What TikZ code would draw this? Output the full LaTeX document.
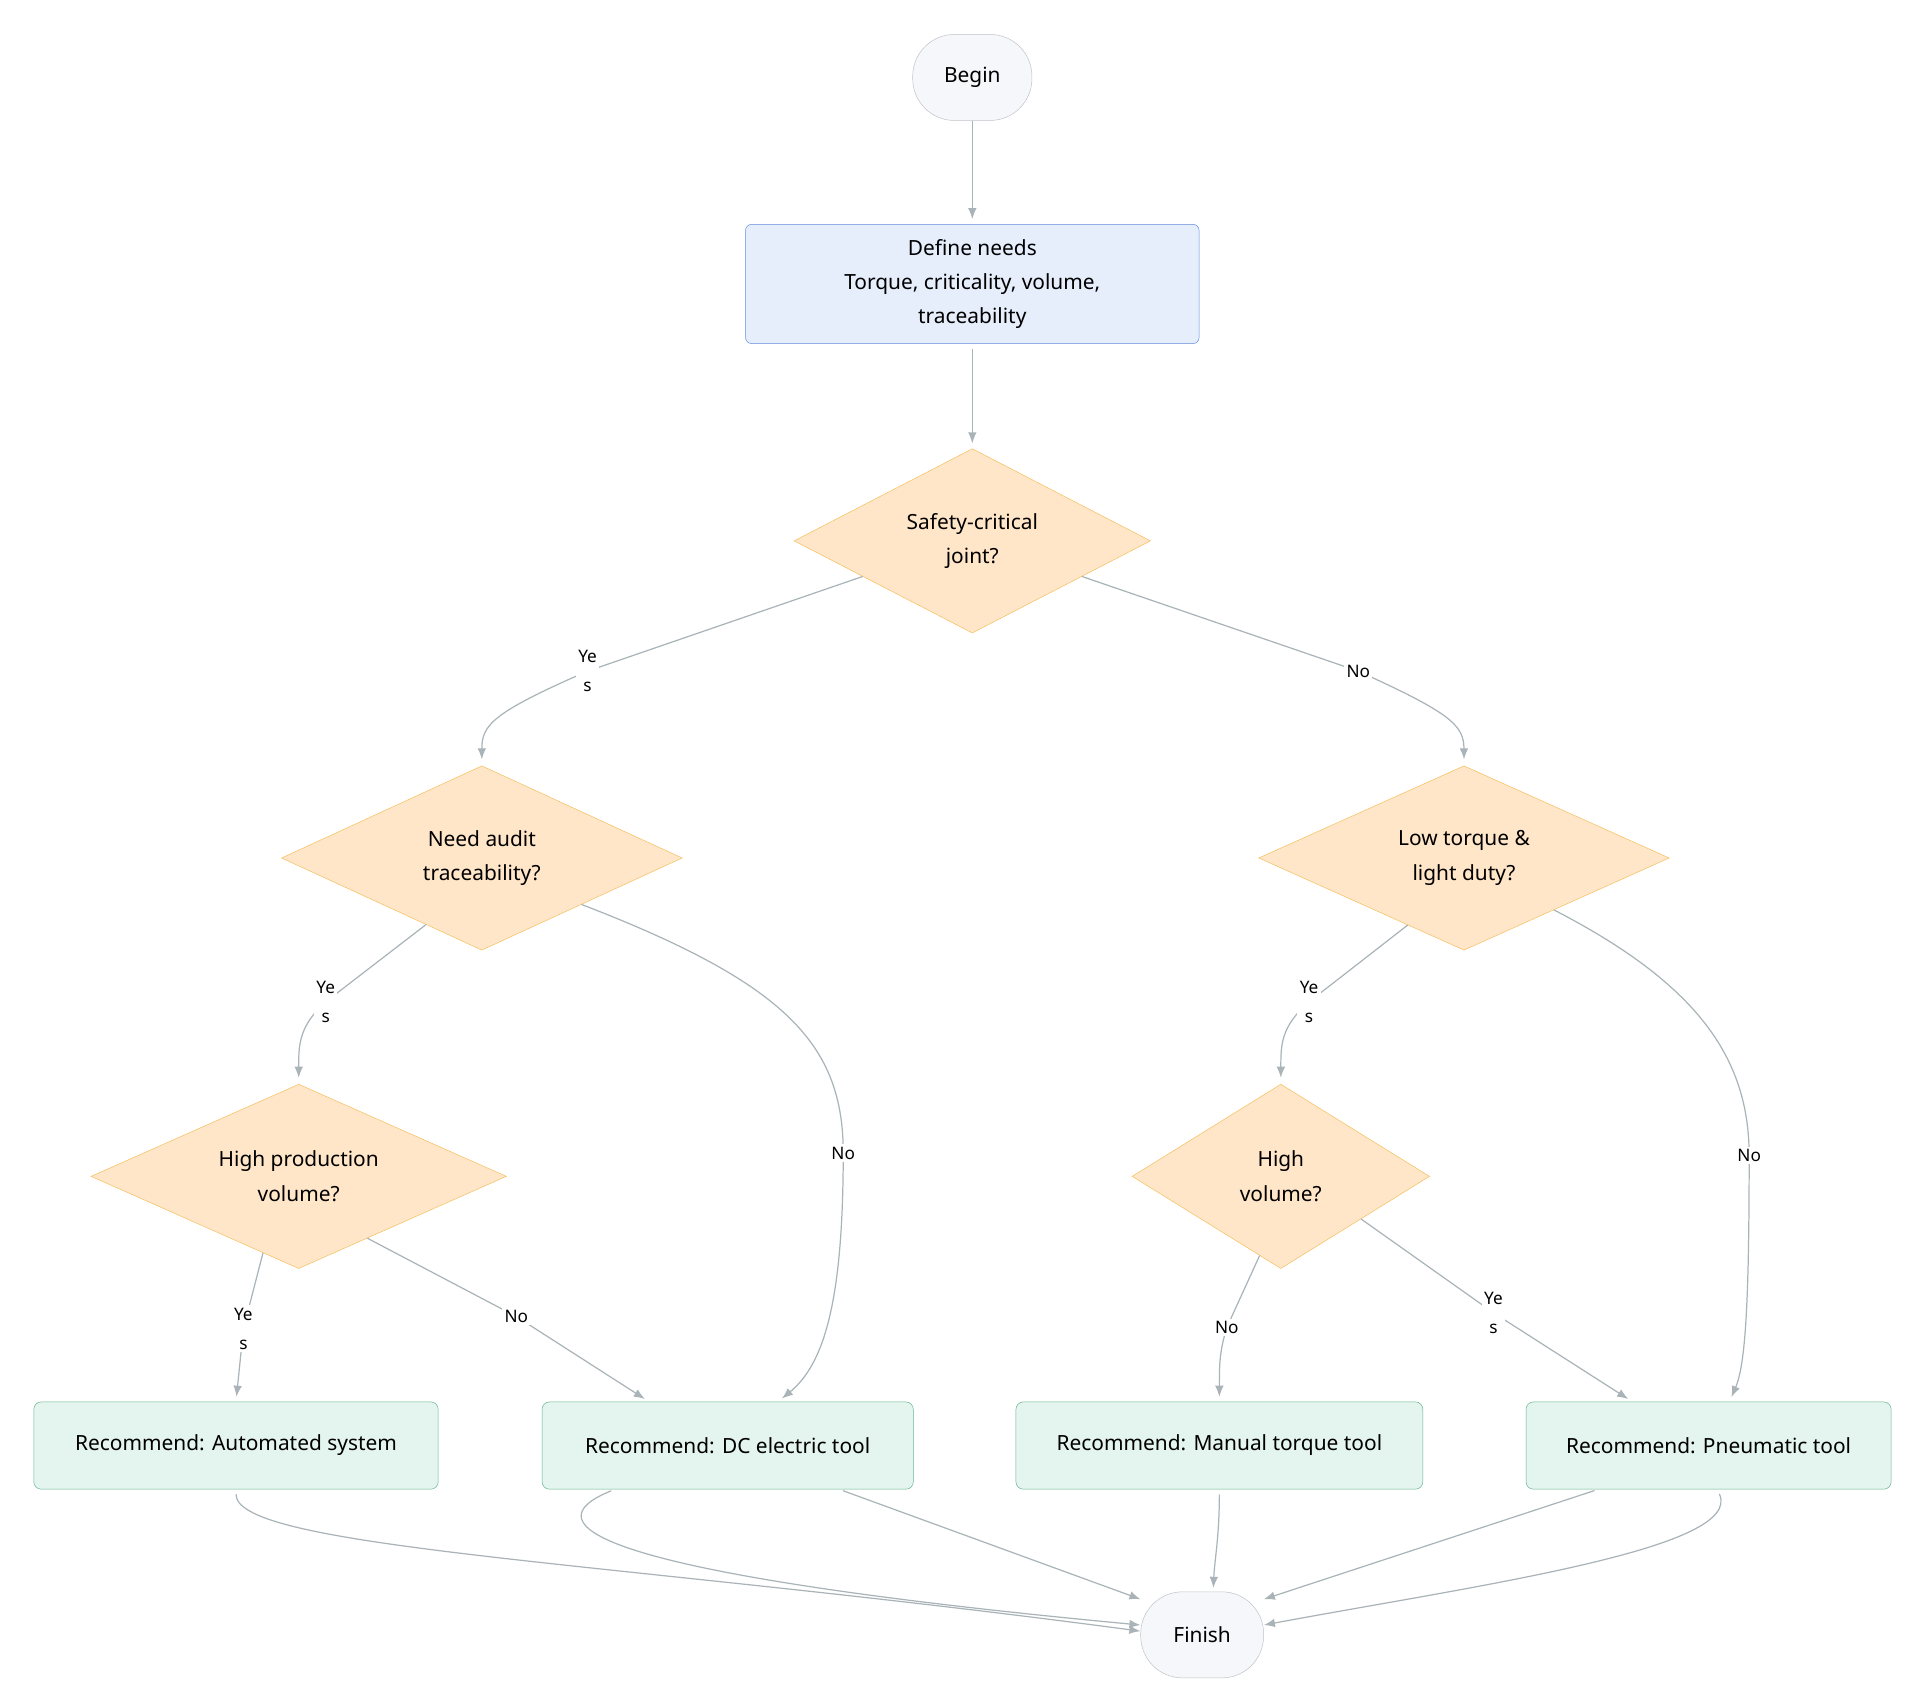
\documentclass[tikz,border=0pt]{standalone}
\usepackage{fontspec}
\setmainfont{Noto Sans}
\usetikzlibrary{shapes.geometric,arrows.meta}
\definecolor{linegray}{RGB}{170,180,184}
\definecolor{termfill}{RGB}{246,247,250}
\definecolor{termline}{RGB}{190,194,200}
\definecolor{stepfill}{RGB}{230,238,252}
\definecolor{stepline}{RGB}{100,140,225}
\definecolor{askfill}{RGB}{255,230,200}
\definecolor{askline}{RGB}{245,190,90}
\definecolor{recfill}{RGB}{228,244,238}
\definecolor{recline}{RGB}{100,180,140}
\tikzset{
  term/.style={rectangle, rounded corners=34pt, draw=termline, fill=termfill, minimum width=97pt, minimum height=70pt, font=\fontsize{17}{21}\selectfont},
  needs/.style={rectangle, rounded corners=5pt, draw=stepline, fill=stepfill, minimum width=369pt, minimum height=97pt, align=center, font=\fontsize{17}{28}\selectfont},
  ask/.style={diamond, draw=askline, fill=askfill, aspect=#1, inner sep=0pt, align=center, font=\fontsize{17}{28}\selectfont},
  rec/.style={rectangle, rounded corners=6pt, draw=recline, fill=recfill, minimum height=71pt, font=\fontsize{17}{21}\selectfont},
  arr/.style={draw=linegray, line width=1pt, -{Latex[length=9pt,width=7pt]}},
  lbl/.style={fill=white, inner sep=2pt, align=center, font=\fontsize{14}{24}\selectfont}
}
\begin{document}
\begin{tikzpicture}[x=1pt,y=-1pt]
\useasboundingbox (0,0) rectangle (1562,1389);
% nodes
\node[term] (begin) at (791,63) {Begin};
\node[needs] (define) at (791,231) {Define needs\\Torque, criticality, volume,\\traceability};
\node[ask=1.93, minimum width=290pt, minimum height=150pt] (safe) at (791,440) {Safety-critical\\joint?};
\node[ask=2.17, minimum width=326pt, minimum height=150pt] (audit) at (392,698) {Need audit\\traceability?};
\node[ask=2.23, minimum width=334pt, minimum height=150pt] (light) at (1191,698) {Low torque \&\\light duty?};
\node[ask=2.25, minimum width=338pt, minimum height=150pt] (prod) at (243,957) {High production\\volume?};
\node[ask=1.61, minimum width=242pt, minimum height=150pt] (vol) at (1042,957) {High\\volume?};
\node[rec, minimum width=329pt] (auto) at (192,1176) {Recommend: Automated system};
\node[rec, minimum width=302pt] (dc) at (592,1176) {Recommend: DC electric tool};
\node[rec, minimum width=331pt] (manual) at (992,1176) {Recommend: Manual torque tool};
\node[rec, minimum width=297pt] (pneu) at (1390,1176) {Recommend: Pneumatic tool};
\node[term, minimum width=100pt] (finish) at (978,1330) {Finish};
% connectors
\draw[arr, shorten >=4pt] (begin.south) -- (define.north);
\draw[arr, shorten >=4pt, shorten <=4pt] (define.south) -- (safe.north);
\draw[arr, shorten >=5pt] (safe.198) -- (478,546) node[lbl]{Ye\\s} .. controls (400,580) and (392,590) .. (audit.north);
\draw[arr, shorten >=5pt] (safe.342) -- (1105,546) node[lbl]{No} .. controls (1180,580) and (1191,590) .. (light.north);
\draw[arr, shorten >=5pt] (audit.230) -- (265,815) node[lbl]{Ye\\s} .. controls (243,835) and (243,850) .. (prod.north);
\draw[arr, shorten >=4pt] (audit.335) .. controls (640,800) and (686,850) .. (686,938) node[lbl]{No} .. controls (686,1060) and (670,1110) .. (dc.north east -| 633,0);
\draw[arr, shorten >=5pt] (light.230) -- (1065,815) node[lbl]{Ye\\s} .. controls (1042,835) and (1042,850) .. (vol.north);
\draw[arr, shorten >=4pt] (light.330) .. controls (1380,800) and (1423,860) .. (1423,940) node[lbl]{No} .. controls (1423,1060) and (1420,1110) .. (pneu.north east -| 1407,0);
\draw[arr, shorten >=4pt] (prod.245) -- (198,1081) node[lbl]{Ye\\s} -- (auto.north);
\draw[arr, shorten >=4pt] (prod.318) -- (420,1071) node[lbl]{No} -- (dc.north west -| 528,0);
\draw[arr, shorten >=4pt] (vol.255) -- (998,1080) node[lbl]{No} .. controls (992,1100) and (992,1110) .. (manual.north);
\draw[arr, shorten >=4pt] (vol.332) -- (1215,1068) node[lbl]{Ye\\s} -- (pneu.north west -| 1328,0);
\draw[arr, shorten <=4pt] (auto.south) .. controls (192,1260) and (500,1270) .. (finish.west |- 0,1327);
\draw[arr, shorten <=3pt] (dc.south west -| 500,0) .. controls (430,1240) and (480,1280) .. (finish.west |- 0,1322);
\draw[arr, shorten <=3pt] (dc.south east -| 683,0) -- (finish.150);
\draw[arr, shorten <=4pt, shorten >=3pt] (manual.south) .. controls (992,1250) and (988,1270) .. (finish.north -| 987,0);
\draw[arr, shorten <=3pt] (pneu.south west -| 1300,0) -- (finish.30);
\draw[arr, shorten <=4pt] (pneu.south -| 1397,0) .. controls (1420,1260) and (1200,1290) .. (finish.east |- 0,1322);
\end{tikzpicture}
\end{document}
